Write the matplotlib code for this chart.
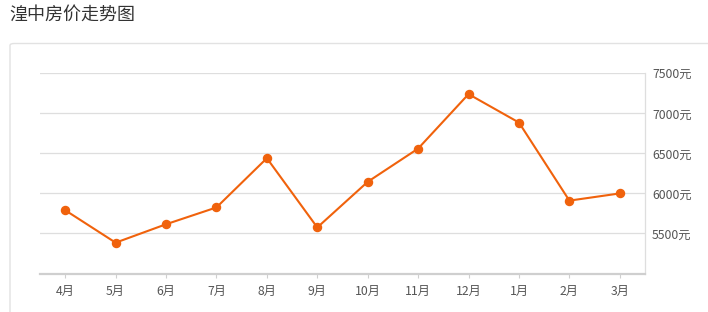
import matplotlib
matplotlib.use("Agg")
import matplotlib.pyplot as plt
from matplotlib.patches import FancyBboxPatch

plt.rcParams['font.family'] = ['Noto Sans CJK SC', 'DejaVu Sans']

# 数据
months = ['4月', '5月', '6月', '7月', '8月', '9月', '10月', '11月', '12月', '1月', '2月', '3月']
prices = [5790, 5385, 5615, 5825, 6440, 5575, 6145, 6560, 7240, 6885, 5910, 6000]
y_ticks = [5500, 6000, 6500, 7000, 7500]
y_labels = ['5500元', '6000元', '6500元', '7000元', '7500元']

line_color = "#f0620c"
grid_color = "#dedede"
text_color = "#555555"

W, H = 708, 312
fig = plt.figure(figsize=(W / 100, H / 100), dpi=100)
fig.patch.set_facecolor("white")

# 标题
fig.text(9 / W, 1 - 15 / H, "湟中房价走势图", fontsize=13, color="#333333",
         ha="left", va="center")

# 外框
box = FancyBboxPatch((10 / W, -0.1), 1.2, (1 - 43.5 / H) + 0.1,
                     boxstyle="round,pad=0,rounding_size=0.006",
                     transform=fig.transFigure, facecolor="white",
                     edgecolor="#e2e2e2", linewidth=1.0, zorder=-5)
fig.patches.append(box)

ax = fig.add_axes([40 / W, 1 - 273.5 / H, (645 - 40) / W, (273.5 - 73.3) / H])
ax.set_facecolor("none")
ax.set_zorder(2)

x = list(range(len(months)))
ax.plot(x, prices, color=line_color, linewidth=1.5, marker="o",
        markersize=5.8, markerfacecolor=line_color, markeredgecolor=line_color,
        zorder=3)

ax.set_xlim(-0.5, len(months) - 0.5)
ax.set_ylim(5000, 7500)
ax.set_xticks(x)
ax.set_xticklabels(months)
ax.set_yticks(y_ticks)
ax.set_yticklabels(y_labels)

ax.yaxis.tick_right()
ax.grid(axis="y", color=grid_color, linewidth=0.9)
ax.set_axisbelow(True)

for s in ["left", "top"]:
    ax.spines[s].set_visible(False)
ax.spines["right"].set_color(grid_color)
ax.spines["right"].set_linewidth(0.9)
ax.spines["bottom"].set_color("#cfcfcf")
ax.spines["bottom"].set_linewidth(1.6)

ax.tick_params(axis="x", length=3, width=0.8, color="#cfcfcf",
               labelsize=8.8, labelcolor=text_color, pad=5)
ax.tick_params(axis="y", length=0, labelsize=8.8, labelcolor=text_color, pad=5)

fig.savefig("out.png", dpi=100)
